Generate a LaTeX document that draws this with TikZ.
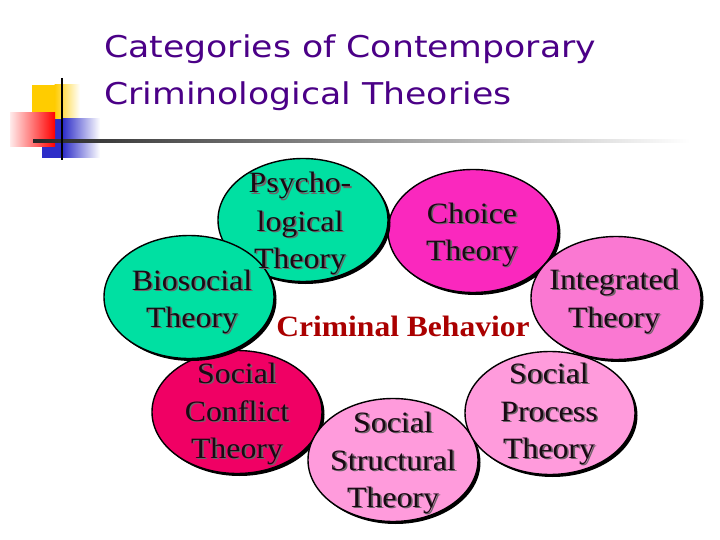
\documentclass[tikz,border=0pt]{standalone}
\usepackage{fontspec}
\usetikzlibrary{shapes.geometric,shadows}
\newfontfamily\titlefont[FakeStretch=1.156]{DejaVu Sans}
\newfontfamily\ellfont[FakeStretch=1.08]{Liberation Serif}
\newfontfamily\cbfont[FakeStretch=1.07]{Liberation Serif}
\definecolor{titlecol}{RGB}{75,0,135}
\definecolor{tealc}{RGB}{0,224,162}
\definecolor{choicec}{RGB}{250,40,190}
\definecolor{integc}{RGB}{250,120,210}
\definecolor{confc}{RGB}{240,0,100}
\definecolor{lpink}{RGB}{255,155,220}
\definecolor{crimc}{RGB}{170,0,0}
\definecolor{txtc}{RGB}{25,10,20}
\definecolor{shc}{RGB}{110,100,105}
\definecolor{logoyel}{RGB}{255,204,0}
\definecolor{logoblue}{RGB}{45,45,200}
\newcommand\shtext[1]{\leavevmode\rlap{\kern1.6pt\raisebox{-1.6pt}{\color{shc}#1}}#1}
\tikzset{
  ell/.style={ellipse, draw=black, line width=1.4pt, inner sep=0pt,
    minimum width=170pt, minimum height=123pt,
    drop shadow={shadow xshift=2.5pt, shadow yshift=-2.5pt, fill=black, opacity=1}},
  txt/.style={anchor=base, inner sep=0pt, text=txtc, font=\ellfont\fontsize{29.5}{36}\selectfont},
  titlestyle/.style={anchor=base west, inner sep=0pt, text=titlecol, font=\titlefont\fontsize{30}{36}\selectfont}
}
\newcommand\tln[4]{\node[txt] (#1) at (#2,#3) {\shtext{#4}};}
\begin{document}
\begin{tikzpicture}[x=1pt,y=-1pt]
\useasboundingbox[fill=white] (0,0) rectangle (720,540);
% logo
\fill[logoyel] (32,85) rectangle (55,119);
\shade[left color=logoyel, right color=white] (54.5,85) rectangle (80,119);
\fill[logoblue] (42,119) rectangle (63,158);
\shade[left color=logoblue, right color=white] (62.5,119) rectangle (100,158);
\shade[left color=red!8, right color=red] (10,113) rectangle (55,147);
\shade[left color=black!85, right color=white] (33,139.5) rectangle (690,142.5);
\draw[black, line width=2pt] (62,78) -- (62,160);
% title
\node[titlestyle] (t1) at (104,58) {Categories of Contemporary};
\node[titlestyle] (t2) at (104,105) {Criminological Theories};
% ellipses
\node[ell, fill=choicec] (choice) at (473,231) {};
\node[ell, fill=tealc] (psy) at (303,220) {};
\node[ell, fill=confc] (conf) at (237,412) {};
\node[ell, fill=tealc] (bio) at (189,297) {};
\node[ell, fill=lpink] (struct) at (393,460) {};
\node[ell, fill=lpink] (proc) at (550,413) {};
\node[ell, fill=integc] (integ) at (616,298) {};
% texts
\tln{psyA}{300}{193}{Psycho-}
\tln{psyB}{300}{231}{logical}
\tln{psyC}{300}{268}{Theory}
\tln{bioA}{192}{290}{Biosocial}
\tln{bioB}{192}{327}{Theory}
\tln{choA}{472}{223}{Choice}
\tln{choB}{472}{260}{Theory}
\tln{intA}{614}{289}{Integrated}
\tln{intB}{614}{327}{Theory}
\tln{conA}{237}{383}{Social}
\tln{conB}{237}{421}{Conflict}
\tln{conC}{237}{458}{Theory}
\tln{strA}{393}{432}{Social}
\tln{strB}{393}{470}{Structural}
\tln{strC}{393}{507}{Theory}
\tln{proA}{549}{383}{Social}
\tln{proB}{549}{421}{Process}
\tln{proC}{549}{458}{Theory}
\node[anchor=base, inner sep=0pt, text=crimc, font=\cbfont\bfseries\fontsize{29.5}{36}\selectfont] (crim) at (403,336) {Criminal Behavior};
\end{tikzpicture}
\end{document}
